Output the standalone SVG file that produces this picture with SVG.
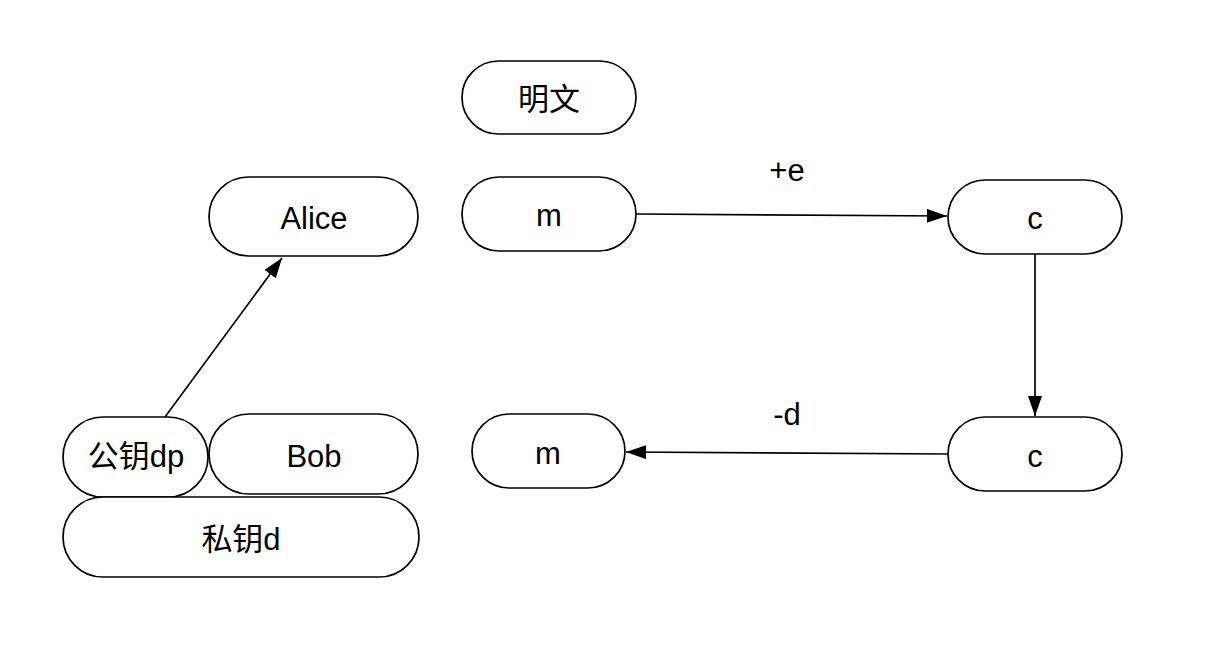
<svg xmlns="http://www.w3.org/2000/svg" width="1218" height="656" viewBox="0 0 1218 656">
<style>
.n{fill:#fff;stroke:#000;stroke-width:1.7}
.t{font-family:"Liberation Sans","Noto Sans CJK SC",Arial,sans-serif;font-size:31px;fill:#000;text-anchor:middle}
.e{fill:none;stroke:#000;stroke-width:1.7}
</style>
<defs>
<marker id="ah" viewBox="0 0 10 10" refX="10" refY="5" markerWidth="20" markerHeight="14" markerUnits="userSpaceOnUse" orient="auto" preserveAspectRatio="none">
<path d="M0,0L10,5L0,10z" fill="#000"/>
</marker>
</defs>
<rect width="1218" height="656" fill="#fff"/>
<g id="connectors">
<path class="e" d="M636,214L947,216" marker-end="url(#ah)"/>
<path class="e" d="M1035,254L1035,416" marker-end="url(#ah)"/>
<path class="e" d="M948,454L626,452" marker-end="url(#ah)"/>
<path class="e" d="M165,417L282,258" marker-end="url(#ah)"/>
<text class="t" x="787" y="181">+e</text>
<text class="t" x="787" y="425">-d</text>
</g>
<g id="mingwen"><rect class="n" x="462" y="61" width="174" height="73" rx="36.5"/><text class="t" x="549" y="110">明文</text></g>
<g id="m1"><rect class="n" x="462" y="177" width="174" height="74" rx="37"/><text class="t" x="549" y="226">m</text></g>
<g id="alice"><rect class="n" x="209" y="177" width="209" height="79" rx="39.5"/><text class="t" x="314" y="229">Alice</text></g>
<g id="c1"><rect class="n" x="948" y="180" width="174" height="74" rx="37"/><text class="t" x="1035" y="229">c</text></g>
<g id="c2"><rect class="n" x="948" y="417" width="174" height="74" rx="37"/><text class="t" x="1035" y="467">c</text></g>
<g id="m2"><rect class="n" x="472" y="414" width="153" height="74" rx="37"/><text class="t" x="548" y="464">m</text></g>
<g id="pubkey"><rect class="n" x="63" y="417" width="145" height="80" rx="40"/><text class="t" x="136" y="467">公钥dp</text></g>
<g id="bob"><rect class="n" x="209" y="414" width="209" height="80" rx="40"/><text class="t" x="314" y="467">Bob</text></g>
<g id="privkey"><rect class="n" x="63" y="497" width="356" height="80" rx="40"/><text class="t" x="241" y="550">私钥d</text></g>
</svg>
